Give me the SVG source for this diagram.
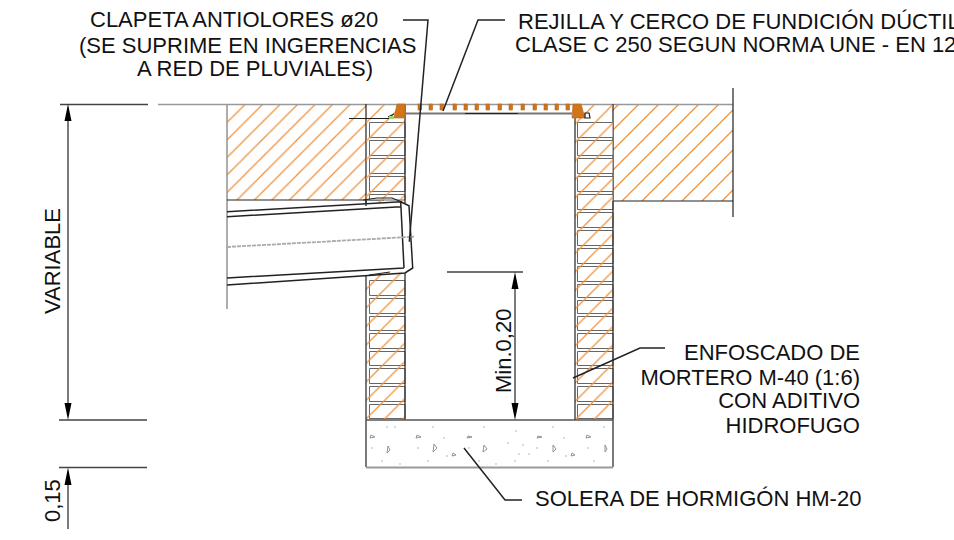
<svg xmlns="http://www.w3.org/2000/svg" width="954" height="540" viewBox="0 0 954 540">
<style>
text{font-family:"Liberation Sans",Arial,sans-serif;font-size:22px;fill:#111}
.k{fill:none;stroke:#222;stroke-width:1.2}
.b{fill:none;stroke:#222;stroke-width:1.5}
.g{fill:none;stroke:#999;stroke-width:1.6}
.d{fill:none;stroke:#444;stroke-width:1.4}
.o{fill:#d2741a;stroke:#b5651a;stroke-width:.6}
.br{fill:#fff;stroke:#666;stroke-width:1}
.agg{fill:#fff;stroke:#888;stroke-width:.9}
.dot{fill:#999}
.ha{fill:none;stroke:#ee9440;stroke-width:1.3}
</style>
<defs>
<pattern id="hl" width="17.500" height="17.500" patternUnits="userSpaceOnUse" patternTransform="translate(17 0)"><path class="ha" d="M-2 2L2 -2M0 17.500L17.500 0M15.500 19.500L19.500 15.500"/></pattern>
<pattern id="hr" width="20" height="20" patternUnits="userSpaceOnUse" patternTransform="translate(3 0)"><path class="ha" d="M-2 2L2 -2M0 20L20 0M18 22L22 18"/></pattern>
<pattern id="wl" width="18.500" height="18.500" patternUnits="userSpaceOnUse" patternTransform="translate(8 0)"><path class="ha" d="M-2 2L2 -2M0 18.500L18.500 0M16.500 20.500L20.500 16.500"/></pattern>
<pattern id="wr" width="18.500" height="18.500" patternUnits="userSpaceOnUse" patternTransform="translate(14.500 0)"><path class="ha" d="M-2 2L2 -2M0 18.500L18.500 0M16.500 20.500L20.500 16.500"/></pattern>
</defs>
<g id="soil">
<rect x="227" y="105" width="139" height="95" fill="url(#hl)"/>
<rect x="613" y="105" width="120" height="96" fill="url(#hr)"/>
<path class="g" d="M158 104.500H733M227 105V309"/>
<path class="k" d="M733 88V217M593 201H733M227 200H384M366 104V282M613 104V201"/>
</g>
<g id="wall-left">
<path class="br" d="M369.500 122.500H405V137.500H369.500ZM369.500 140.500H405V155.500H369.500ZM369.500 158.500H405V173.500H369.500ZM369.500 176.500H405V191.500H369.500ZM369.500 194.500H405V200H369.500ZM369.500 280.500H405V295.500H369.500ZM369.500 298.500H405V313.500H369.500ZM369.500 316.500H405V330.500H369.500ZM369.500 333.500H405V348.500H369.500ZM369.500 351.500H405V365.500H369.500ZM369.500 368.500H405V383.500H369.500ZM369.500 386.500H405V401.500H369.500ZM369.500 404.500H405V418.500H369.500Z"/>
<rect x="366" y="105" width="39" height="315" fill="url(#wl)"/>
<path class="k" d="M366 282V420M405 105V203M405 273V420"/>
</g>
<g id="wall-right">
<path class="br" d="M577.500 122.500H613V137.500H577.500ZM577.500 140.500H613V155.500H577.500ZM577.500 158.500H613V173.500H577.500ZM577.500 176.500H613V191.500H577.500ZM577.500 194.500H613V209.500H577.500ZM577.500 212.500H613V227.500H577.500ZM577.500 230.500H613V245.500H577.500ZM577.500 248.500H613V263.500H577.500ZM577.500 266.500H613V281.500H577.500ZM577.500 284.500H613V297.500H577.500ZM577.500 300.500H613V313.500H577.500ZM577.500 316.500H613V330.500H577.500ZM577.500 333.500H613V348.500H577.500ZM577.500 351.500H613V365.500H577.500ZM577.500 368.500H613V383.500H577.500ZM577.500 386.500H613V401.500H577.500ZM577.500 404.500H613V418.500H577.500Z"/>
<rect x="575" y="105" width="38" height="315" fill="url(#wr)"/>
<path class="k" d="M575 112V420M613 201V420"/>
</g>
<g id="grating">
<path fill="none" stroke="#777" stroke-width="2.200" d="M405 113.500H572"/>
<path class="k" d="M465 113.500H518"/>
<path class="o" d="M397 104H405V118H394ZM573 104H581L585 118H572Z"/>
<path class="k" d="M349 118.500H394M585 113H589L590 118H585ZM388 117L394 114"/>
<rect x="389" y="116" width="5" height="3" fill="#8fdc6f"/>
<g class="o"><rect x="418" y="104" width="3.500" height="6"/><rect x="429" y="104" width="3.500" height="6"/><rect x="440" y="104" width="3.500" height="6"/><rect x="453" y="104" width="3.500" height="6"/><rect x="464" y="104" width="3.500" height="6"/><rect x="475" y="104" width="3.500" height="6"/><rect x="486" y="104" width="3.500" height="6"/><rect x="498" y="104" width="3.500" height="6"/><rect x="509" y="104" width="3.500" height="6"/><rect x="521" y="104" width="3.500" height="6"/><rect x="533" y="104" width="3.500" height="6"/><rect x="544" y="104" width="3.500" height="6"/><rect x="555" y="104" width="3.500" height="6"/><rect x="566" y="104" width="3.500" height="6"/></g>
</g>
<g id="pipe">
<path d="M228 211.700L400.700 201.700L409 205.700L412.700 268L405 273L228 285Z" fill="#fff"/>
<path class="b" d="M227 211.700L400.700 201.700L404 268M227 216.700L400.700 206.700M227 278L404 268M227 285L405 273L412.700 268L409 205.700L400.700 201.700"/>
<path fill="none" stroke="#aaa" stroke-width="1.800" stroke-dasharray="4 1" d="M227 247L414 236.700"/>
<path class="k" d="M363 200L377 198H392L402 202M366 206V200M369 275L390 272"/>
</g>
<g id="base">
<rect x="366" y="420" width="247" height="47" fill="#fff"/>
<path class="k" d="M366 420V467M613 420V467"/>
<path stroke="#555" stroke-width="1.400" fill="none" d="M366 420H613"/>
<path stroke="#999" stroke-width="2" fill="none" d="M366 467.500H613"/>
<g class="agg"><path d="M371 435L375 437L370 438ZM388 446L390 450L387 453ZM417 435L421 437L416 438ZM434 444L437 448L433 452ZM468 436L472 437L467 438ZM484 445L487 449L483 452ZM453 453L456 455L452 456ZM538 436L542 437L537 438ZM553 445L556 449L553 452ZM587 435L591 437L586 438ZM605 445L607 449L605 452ZM572 453L575 455L571 456Z"/></g>
<g class="dot"><circle cx="387" cy="427" r=".7"/><circle cx="395" cy="427" r=".7"/><circle cx="433" cy="427" r=".7"/><circle cx="484" cy="427" r=".7"/><circle cx="516" cy="431" r=".7"/><circle cx="553" cy="427" r=".7"/><circle cx="604" cy="427" r=".7"/><circle cx="372" cy="448" r=".7"/><circle cx="418" cy="448" r=".7"/><circle cx="444" cy="438" r=".7"/><circle cx="447" cy="456" r=".7"/><circle cx="469" cy="448" r=".7"/><circle cx="508" cy="443" r=".7"/><circle cx="523" cy="445" r=".7"/><circle cx="519" cy="454" r=".7"/><circle cx="529" cy="454" r=".7"/><circle cx="537" cy="448" r=".7"/><circle cx="564" cy="438" r=".7"/><circle cx="588" cy="448" r=".7"/><circle cx="566" cy="456" r=".7"/><circle cx="382" cy="461" r=".7"/><circle cx="400" cy="464" r=".7"/><circle cx="428" cy="461" r=".7"/><circle cx="479" cy="461" r=".7"/><circle cx="496" cy="464" r=".7"/><circle cx="515" cy="461" r=".7"/><circle cx="548" cy="461" r=".7"/><circle cx="594" cy="461" r=".7"/></g>
</g>
<g id="connectors">
<path class="d" d="M60 104.500H148M59 420H147M59 467.500H147M447 272H523"/>
<path class="d" d="M68 121V404M68 485V529M515 289V404"/>
<path d="M68 104L64.500 121H71.500ZM68 420L64.500 403H71.500ZM68 467.500L64.500 485H71.500ZM515 272L511.500 289H518.500ZM515 420L511.500 403H518.500Z" fill="#000"/>
<path class="b" d="M403 20H428L409.300 241.700M505 20H478L443 111M665 348H640L573 378M522 500H505L464 448"/>
</g>
<g id="labels">
<text x="90" y="27">CLAPETA ANTIOLORES ø20</text>
<text x="79" y="53">(SE SUPRIME EN INGERENCIAS</text>
<text x="137" y="76">A RED DE PLUVIALES)</text>
<text x="518" y="29">REJILLA Y CERCO DE FUNDICIÓN DÚCTIL</text>
<text x="515" y="52">CLASE C 250 SEGUN NORMA UNE - EN 124</text>
<text x="860" y="360" text-anchor="end">ENFOSCADO DE</text>
<text x="860" y="385" text-anchor="end">MORTERO M-40 (1:6)</text>
<text x="860" y="408" text-anchor="end">CON ADITIVO</text>
<text x="860" y="433" text-anchor="end">HIDROFUGO</text>
<text x="535" y="506">SOLERA DE HORMIGÓN HM-20</text>
<text transform="translate(60 314) rotate(-90)">VARIABLE</text>
<text transform="translate(511 393) rotate(-90)">Min.0,20</text>
<text transform="translate(60 522) rotate(-90)">0,15</text>
</g>
</svg>
